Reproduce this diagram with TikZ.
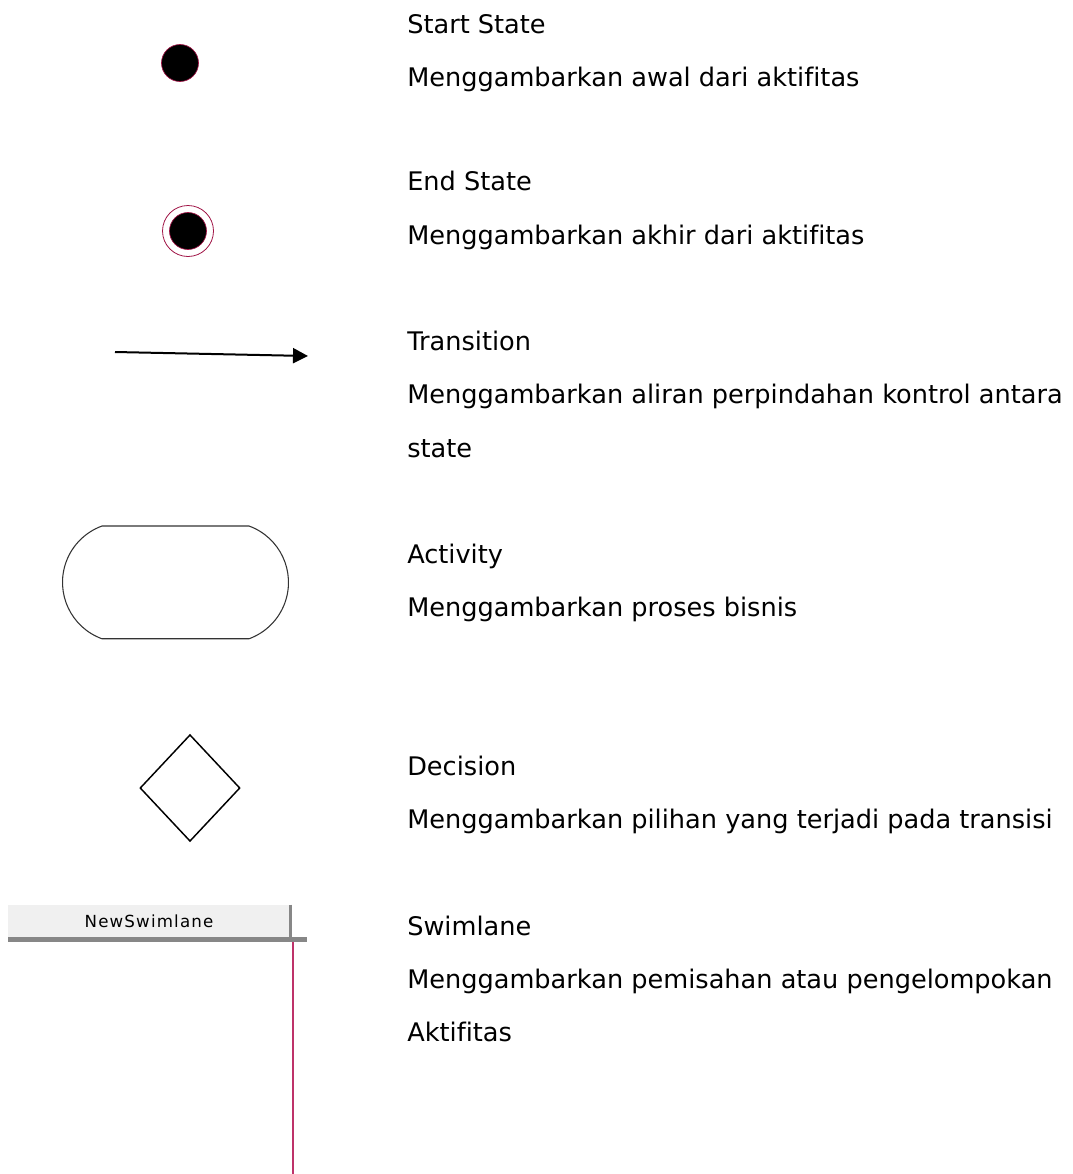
\documentclass[tikz,border=0pt]{standalone}
\usepackage{fontspec}
\setmainfont[Ligatures=NoCommon]{DejaVu Sans}
\usetikzlibrary{arrows.meta,shapes.geometric}
\definecolor{statered}{RGB}{160,20,70}
\definecolor{lanered}{RGB}{190,50,105}
\definecolor{headgray}{RGB}{240,240,240}
\definecolor{bargray}{RGB}{135,135,135}
\begin{document}
\begin{tikzpicture}[x=0.75pt,y=-0.75pt,
    desc/.style={anchor=base west,inner sep=0pt,font=\fontsize{19.2}{23}\selectfont},
    startst/.style={circle,fill=black,draw=statered,line width=0.5pt,inner sep=0pt,minimum size=27.75pt},
    endring/.style={circle,draw=statered,line width=0.6pt,inner sep=0pt,minimum size=38.25pt},
    activ/.style={draw=black!80,line width=0.8pt},
    decis/.style={diamond,draw=black,line width=1.1pt,inner sep=0pt,minimum width=75pt,minimum height=80pt},
    swimhead/.style={fill=headgray,inner sep=0pt,minimum width=211.5pt,minimum height=24pt,
      font=\fontsize{12.5}{14}\selectfont\addfontfeature{LetterSpace=7}}]
  \useasboundingbox (0,0) rectangle (1073,1174);
  % symbols
  \node[startst] (S) at (180,63) {};
  \node[endring] (E) at (188,231) {};
  \node[startst] (EE) at (188,231) {};
  \coordinate (T1) at (115,352);
  \coordinate (T2) at (308,356);
  \draw[-{Triangle[length=11.25pt,width=11.25pt]},line width=1.5pt](T1) -- (T2);
  \coordinate (A) at (175.5,582.5);
  \draw[activ] ([shift={(-73.5,-56.5)}]A) -- ++(147,0) arc[start angle=-70,end angle=70,radius=60]
    -- ++(-147,0) arc[start angle=110,end angle=250,radius=60] -- cycle;
  \node[decis] (D) at (190,788) {};
  % swimlane
  \node[swimhead] (H) at (149,921) {NewSwimlane};
  \fill[bargray] (8,937) rectangle (307,942);
  \draw[bargray,line width=2pt] (H.north east) -- (H.south east);
  \coordinate (W1) at (293,942);
  \coordinate (W2) at (293,1174);
  \draw[lanered,line width=1.5pt] (W1) -- (W2);
  % texts
  \foreach \n/\y/\t in{1/33/Start State, 2/86/Menggambarkan awal dari aktifitas,
      3/190/End State, 4/244/Menggambarkan akhir dari aktifitas,
      5/350/Transition, 6/403/Menggambarkan aliran perpindahan kontrol antara, 7/457/state,
      8/563/Activity, 9/616/Menggambarkan proses bisnis,
      10/775/Decision, 11/828/Menggambarkan pilihan yang terjadi pada transisi,
      12/935/Swimlane, 13/988/Menggambarkan pemisahan atau pengelompokan, 14/1041/Aktifitas}{
    \node[desc](L\n) at (407,\y) {\t};
  }
\end{tikzpicture}
\end{document}
